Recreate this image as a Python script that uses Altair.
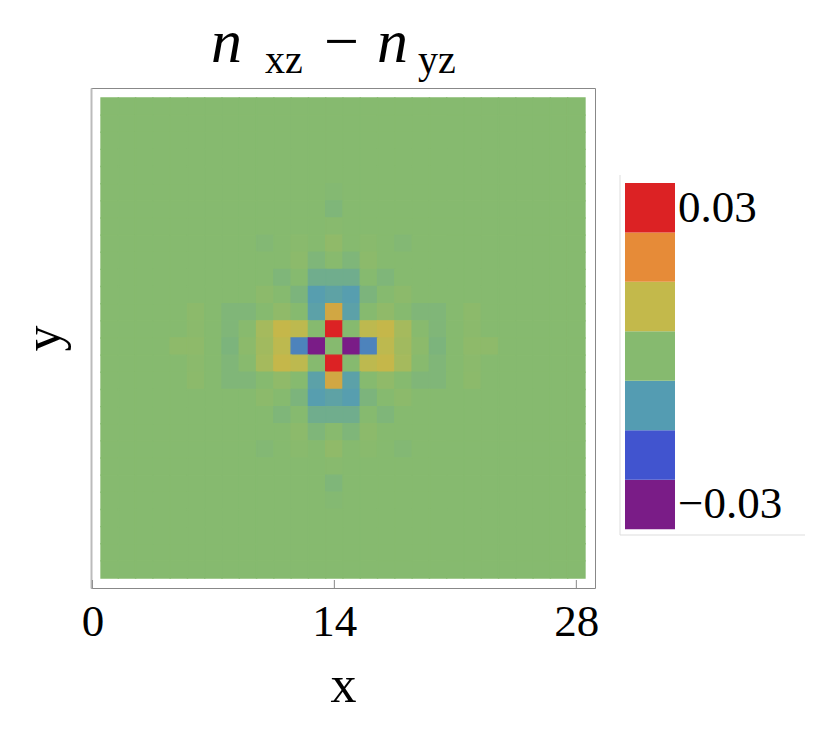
import altair as alt
import pandas as pd

# ---------------- data (values in thousandths, top row is y = 28) ----------------
X_TICKS = [0, 14, 28]
COLOR_STOPS = [-0.03, -0.02, -0.01, 0.0, 0.01, 0.02, 0.03]
COLORS = ["#7A1C87", "#4154CF", "#549CB2", "#86BA6F", "#C3B94B", "#E68B38", "#DC2224"]
LEGEND_LABELS = ["\u22120.03", "0.03"]
LEGEND_LABEL_VALUES = [-0.03, 0.03]
TITLE_PARTS = ["n", "xz", "\u2212", "n", "yz"]

ROWS = [
    [0, 0, 0, 0, 0, 0, 0, 0, 0, 0, 0, 0, 0, 0, 0, 0, 0, 0, 0, 0, 0, 0, 0, 0, 0, 0, 0, 0],
    [0, 0, 0, 0, 0, 0, 0, 0, 0, 0, 0, 0, 0, 0, 0, 0, 0, 0, 0, 0, 0, 0, 0, 0, 0, 0, 0, 0],
    [0, 0, 0, 0, 0, 0, 0, 0, 0, 0, 0, 0, 0, 0, 0, 0, 0, 0, 0, 0, 0, 0, 0, 0, 0, 0, 0, 0],
    [0, 0, 0, 0, 0, 0, 0, 0, 0, 0, 0, 0, 0, 0, 0, 0, 0, 0, 0, 0, 0, 0, 0, 0, 0, 0, 0, 0],
    [0, 0, 0, 0, 0, 0, 0, 0, 0, 0, 0, 0, 0, 0, 0, 0, 0, 0, 0, 0, 0, 0, 0, 0, 0, 0, 0, 0],
    [0, 0, 0, 0, 0, 0, 0, 0, 0, 0, 0, 0, 0, -0.5, 0, 0, 0, 0, 0, 0, 0, 0, 0, 0, 0, 0, 0, 0],
    [0, 0, 0, 0, 0, 0, 0, 0, 0, 0, 0, 0, 0, -1.5, 0, 0, 0, 0, 0, 0, 0, 0, 0, 0, 0, 0, 0, 0],
    [0, 0, 0, 0, 0, 0, 0, 0, 0, 0, 0, 0, 0, 0.3, 0, 0, 0, 0, 0, 0, 0, 0, 0, 0, 0, 0, 0, 0],
    [0, 0, 0, 0, 0, 0, 0, 0, 0, -0.7, 0, 0.5, 0, 1.7, 0, 0.5, 0, -0.7, 0, 0, 0, 0, 0, 0, 0, 0, 0, 0],
    [0, 0, 0, 0, 0, 0, 0, 0, 0, 0, 0, 1.0, -1.5, 0.3, -1.5, 1.0, 0, 0, 0, 0, 0, 0, 0, 0, 0, 0, 0, 0],
    [0, 0, 0, 0, 0, 0, 0, 0, 0, 0, -1.5, 0, -4.5, -4.5, -4.5, 0, -1.5, 0, 0, 0, 0, 0, 0, 0, 0, 0, 0, 0],
    [0, 0, 0, 0, 0, 0, 0, 0, 0, 1.0, 0, -2.0, -9.5, -8.0, -9.5, -2.0, 0, 1.0, 0, 0, 0, 0, 0, 0, 0, 0, 0, 0],
    [0, 0, 0, 0, 0, 1.0, 0, -1.3, -1.3, 0, 1.7, 0, -8.5, 14.0, -8.5, 0, 1.7, 0, -1.3, -1.3, 0, 1.0, 0, 0, 0, 0, 0, 0],
    [0, 0, 0, 0, 0, 0.8, 0, -1.3, 0.3, 5.0, 10.5, 9.0, 0, 30, 0, 9.0, 10.5, 5.0, 0.3, -1.3, 0, 0.8, 0, 0, 0, 0, 0, 0],
    [0, 0, 0, 0, 1.3, 1.3, 0, -2.0, 1.0, 4.5, 9.0, -13.5, -30, 0, -30, -13.5, 9.0, 4.5, 1.0, -2.0, 0, 1.3, 1.3, 0, 0, 0, 0, 0],
    [0, 0, 0, 0, 0, 0.8, 0, -1.3, 0.3, 5.0, 10.5, 9.0, 0, 30, 0, 9.0, 10.5, 5.0, 0.3, -1.3, 0, 0.8, 0, 0, 0, 0, 0, 0],
    [0, 0, 0, 0, 0, 1.0, 0, -1.3, -1.3, 0, 1.7, 0, -8.5, 14.0, -8.5, 0, 1.7, 0, -1.3, -1.3, 0, 1.0, 0, 0, 0, 0, 0, 0],
    [0, 0, 0, 0, 0, 0, 0, 0, 0, 1.0, 0, -2.0, -9.5, -8.0, -9.5, -2.0, 0, 1.0, 0, 0, 0, 0, 0, 0, 0, 0, 0, 0],
    [0, 0, 0, 0, 0, 0, 0, 0, 0, 0, -1.5, 0, -4.5, -4.5, -4.5, 0, -1.5, 0, 0, 0, 0, 0, 0, 0, 0, 0, 0, 0],
    [0, 0, 0, 0, 0, 0, 0, 0, 0, 0, 0, 1.0, -1.5, 0.3, -1.5, 1.0, 0, 0, 0, 0, 0, 0, 0, 0, 0, 0, 0, 0],
    [0, 0, 0, 0, 0, 0, 0, 0, 0, -0.7, 0, 0.5, 0, 1.7, 0, 0.5, 0, -0.7, 0, 0, 0, 0, 0, 0, 0, 0, 0, 0],
    [0, 0, 0, 0, 0, 0, 0, 0, 0, 0, 0, 0, 0, 0.3, 0, 0, 0, 0, 0, 0, 0, 0, 0, 0, 0, 0, 0, 0],
    [0, 0, 0, 0, 0, 0, 0, 0, 0, 0, 0, 0, 0, -1.5, 0, 0, 0, 0, 0, 0, 0, 0, 0, 0, 0, 0, 0, 0],
    [0, 0, 0, 0, 0, 0, 0, 0, 0, 0, 0, 0, 0, -0.5, 0, 0, 0, 0, 0, 0, 0, 0, 0, 0, 0, 0, 0, 0],
    [0, 0, 0, 0, 0, 0, 0, 0, 0, 0, 0, 0, 0, 0, 0, 0, 0, 0, 0, 0, 0, 0, 0, 0, 0, 0, 0, 0],
    [0, 0, 0, 0, 0, 0, 0, 0, 0, 0, 0, 0, 0, 0, 0, 0, 0, 0, 0, 0, 0, 0, 0, 0, 0, 0, 0, 0],
    [0, 0, 0, 0, 0, 0, 0, 0, 0, 0, 0, 0, 0, 0, 0, 0, 0, 0, 0, 0, 0, 0, 0, 0, 0, 0, 0, 0],
    [0, 0, 0, 0, 0, 0, 0, 0, 0, 0, 0, 0, 0, 0, 0, 0, 0, 0, 0, 0, 0, 0, 0, 0, 0, 0, 0, 0],
]

FONT = "Liberation Serif"

records = []
n_rows = len(ROWS)
for i, row in enumerate(ROWS):
    for j, val in enumerate(row):
        records.append({"x": j + 1, "y": n_rows - i, "v": val / 1000.0})
df = pd.DataFrame(records)

color_scale = alt.Scale(type="linear", domain=COLOR_STOPS, range=COLORS,
                        interpolate="rgb", clamp=True)
x_scale = alt.Scale(domain=[-0.08, 29.08], nice=False, zero=False)
y_scale = alt.Scale(domain=[-0.08, 29.08], nice=False, zero=False)

heat = alt.Chart(df).transform_calculate(
    x0="datum.x - 0.5", x1="datum.x + 0.5",
    y0="datum.y - 0.5", y1="datum.y + 0.5",
).mark_rect(strokeWidth=1.4).encode(
    x=alt.X("x0:Q", scale=x_scale, title="x",
            axis=alt.Axis(values=X_TICKS, grid=False, domain=False, ticks=False,
                          labelFontSize=45, labelFont=FONT, labelColor="black",
                          labelPadding=11, titleFontSize=52, titleFont=FONT,
                          titleFontWeight="normal", titleColor="black",
                          titlePadding=16, format="d")),
    x2="x1:Q",
    y=alt.Y("y0:Q", scale=y_scale, title="y",
            axis=alt.Axis(grid=False, labels=False, ticks=False, domain=True,
                          domainColor="#bbbbbb", domainWidth=2,
                          titleFontSize=52, titleFont=FONT,
                          titleFontWeight="normal", titleColor="black",
                          titlePadding=21)),
    y2="y1:Q",
    fill=alt.Fill("v:Q", scale=color_scale, legend=None),
    stroke=alt.Stroke("v:Q", scale=color_scale, legend=None),
)

tick_rules = alt.Chart(pd.DataFrame({"t": X_TICKS})).mark_rule(
    color="#888888", strokeWidth=1
).encode(
    x=alt.X("t:Q", scale=x_scale, title="x"),
    y=alt.value(500), y2=alt.value(492),
)

title_specs = [
    (TITLE_PARTS[0], 120, -26, 62, "italic"),
    (TITLE_PARTS[1], 174, -15, 40, "normal"),
    (TITLE_PARTS[2], 233, -26, 62, "normal"),
    (TITLE_PARTS[3], 286, -26, 62, "italic"),
    (TITLE_PARTS[4], 327, -15, 40, "normal"),
]
title_layers = []
for txt, px, py, fs, style in title_specs:
    title_layers.append(
        alt.Chart(pd.DataFrame({"t": [txt]})).mark_text(
            align="left", baseline="alphabetic", fontSize=fs, font=FONT,
            fontStyle=style, color="black"
        ).encode(text="t:N", x=alt.value(px), y=alt.value(py))
    )

heatmap = alt.layer(heat, tick_rules, *title_layers).properties(width=504, height=500)

# ---------------- legend ----------------
leg_scale = alt.Scale(domain=[-0.0469, 0.0542], nice=False, zero=False)
leg_rects = alt.Chart(pd.DataFrame({"v": COLOR_STOPS})).transform_calculate(
    v0="datum.v - 0.005", v1="datum.v + 0.005"
).mark_rect().encode(
    y=alt.Y("v0:Q", scale=leg_scale, axis=None),
    y2="v1:Q",
    x=alt.value(10), x2=alt.value(60),
    fill=alt.Fill("v:Q", scale=color_scale, legend=None),
)
leg_text = alt.Chart(pd.DataFrame({"v": LEGEND_LABEL_VALUES, "label": LEGEND_LABELS})).mark_text(
    align="left", baseline="middle", fontSize=45, font=FONT, color="black"
).encode(
    y=alt.Y("v:Q", scale=leg_scale, axis=None),
    x=alt.value(63),
    text="label:N",
)
leg_left = alt.Chart(pd.DataFrame({"a": [0]})).mark_rule(color="#dddddd", strokeWidth=1).encode(
    x=alt.value(5), y=alt.value(87), y2=alt.value(447)
)
leg_bottom = alt.Chart(pd.DataFrame({"a": [0]})).mark_rule(color="#dddddd", strokeWidth=1).encode(
    x=alt.value(5), x2=alt.value(190), y=alt.value(447)
)
legend = alt.layer(leg_rects, leg_text, leg_left, leg_bottom).properties(
    width=190, height=500, view=alt.ViewBackground(stroke="transparent")
)

chart = alt.hconcat(
    heatmap, legend, spacing=20, bounds="flush",
    padding={"left": 8, "top": 3, "right": 5, "bottom": 5},
).resolve_scale(
    x="independent", y="independent"
).configure(font=FONT).configure_view(stroke="#888888", strokeWidth=1)

chart.save("out.html", embed_options={"renderer": "svg", "actions": False})
